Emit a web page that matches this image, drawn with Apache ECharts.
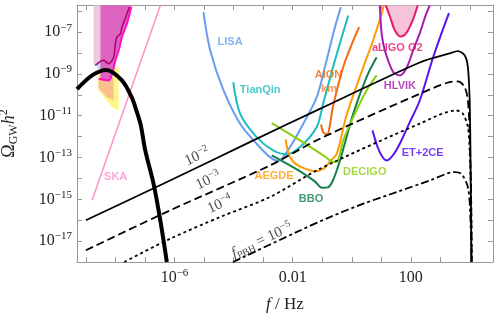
<!DOCTYPE html>
<html>
<head>
<meta charset="utf-8">
<script src="https://cdn.jsdelivr.net/npm/echarts@6/dist/echarts.min.js"></script>
<style>
  html, body { margin: 0; padding: 0; background: #fff; }
  #main { width: 500px; height: 322px; }
</style>
</head>
<body>
<div id="main"></div>
<script>
// all values are log10(f/Hz), log10(Omega_GW h^2)
var xTicks = [-9, -8, -7, -6, -5, -4, -3, -2, -1, 0, 1, 2, 3, 4];
var xLabels = [-6, -2, 2];
var yTicks = [-17, -16, -15, -14, -13, -12, -11, -10, -9, -8, -7, -6];
var yLabels = [-17, -15, -13, -11, -9, -7];

// PBH merger backgrounds for f_PBH = 1e-2 ... 1e-5
var fpbh2 = [[-9.0,-16.0],[-6.15,-14.10],[-3.33,-12.18],[-1.08,-10.67],[2.30,-8.45],[3.31,-8.02],[3.59,-7.91],[3.82,-8.11],[3.93,-8.67],[3.99,-10.27],[4.02,-13.14],[4.05,-18.0]];
var fpbh3 = [[-9.0,-17.44],[-6.15,-15.53],[-2.77,-13.38],[-1.08,-12.10],[2.30,-9.95],[3.31,-9.39],[3.59,-9.36],[3.82,-9.63],[3.93,-10.27],[3.99,-11.85],[4.04,-15.05],[4.06,-18.0]];
var fpbh4 = [[-7.70,-18.0],[-6.15,-16.89],[-4.46,-15.85],[-2.77,-14.89],[-1.08,-13.54],[2.30,-11.38],[3.54,-10.75],[3.76,-10.90],[3.93,-11.55],[3.99,-12.66],[4.04,-15.05],[4.06,-18.0]];
var fpbh5 = [[-4.02,-18.0],[-3.78,-17.84],[-1.75,-16.49],[-0.74,-15.85],[0.39,-15.21],[1.51,-14.66],[2.64,-14.10],[3.48,-13.70],[3.71,-13.78],[3.93,-14.42],[4.01,-15.69],[4.05,-18.0]];

// induced background peak (thick black)
var peak = [[-9.3,-9.73],[-8.79,-9.07],[-8.31,-8.81],[-7.78,-9.31],[-7.45,-10.11],[-7.27,-10.84],[-7.14,-11.46],[-6.99,-12.66],[-6.71,-14.25],[-6.48,-16.01],[-6.26,-18.0]];

// sensitivity curves
var ska = [[-8.79,-15.05],[-6.48,-5.72]];
var lisa = [[-5.02,-6.04],[-4.79,-7.88],[-4.34,-9.79],[-3.78,-11.38],[-3.22,-12.34],[-2.77,-12.98],[-2.49,-13.17],[-2.09,-12.50],[-1.64,-11.38],[-1.19,-10.12],[-0.87,-8.45],[-0.60,-6.92],[-0.37,-5.8]];
var tianqin = [[-4.01,-9.39],[-3.78,-10.90],[-3.22,-12.02],[-2.66,-12.66],[-2.20,-12.85],[-1.75,-12.50],[-1.19,-11.55],[-0.97,-10.43],[-0.57,-8.35],[-0.12,-6.20]];
var bbo = [[-2.71,-12.90],[-1.75,-13.66],[-1.25,-14.14],[-1.01,-14.45],[-0.81,-14.43],[-0.64,-14.10],[-0.40,-13.14],[0.05,-10.90],[0.50,-9.15],[0.84,-8.20]];
var decigo = [[-2.71,-11.35],[-1.75,-12.18],[-0.91,-12.95],[-0.64,-13.21],[-0.47,-13.14],[-0.29,-12.18],[0.05,-11.07],[0.50,-9.79],[0.84,-9.07]];
var aegde = [[-2.24,-12.13],[-2.14,-12.80],[-1.99,-13.19],[-1.75,-13.43],[-1.25,-13.66],[-0.94,-13.52],[-0.74,-13.19],[-0.51,-12.82],[-0.18,-10.99],[0.39,-8.67],[0.72,-7.40],[1.01,-6.12],[1.08,-5.72]];
var aionKm = [[-1.04,-11.42],[-0.96,-11.80],[-0.84,-11.89],[-0.63,-10.51],[-0.29,-8.67],[0.05,-7.40],[0.25,-6.76]];
var ligoO2 = [[1.15,-5.72],[1.29,-6.25],[1.46,-6.92],[1.66,-7.21],[1.86,-7.01],[2.06,-6.44],[2.23,-5.72]];
var hlvik = [[0.95,-5.72],[1.01,-7.06],[1.12,-7.88],[1.40,-8.91],[1.63,-9.07],[1.86,-8.69],[2.10,-7.78],[2.30,-7.06],[2.50,-6.20],[2.64,-5.72]];
var et2ce = [[0.70,-11.70],[0.88,-12.52],[1.05,-13.00],[1.19,-13.14],[1.39,-12.90],[1.63,-12.33],[1.96,-11.32],[2.30,-10.27],[2.74,-8.26],[3.03,-7.08],[3.29,-6.09]];

// PTA constraints (top left)
var ptaStrip = [[-8.74,-5.72],[-8.51,-5.72],[-8.51,-8.59],[-8.74,-8.59]];
var ptaFill = [[-8.51,-5.72],[-7.46,-5.72],[-7.46,-5.80],[-7.61,-6.60],[-7.78,-7.24],[-7.89,-7.88],[-8.00,-8.35],[-8.11,-8.99],[-8.23,-9.31],[-8.51,-9.26]];
var ptaBright = [[-8.57,-9.23],[-8.23,-9.31],[-8.11,-8.99],[-8.00,-8.35],[-7.89,-7.88],[-7.78,-7.24],[-7.61,-6.60],[-7.46,-5.80]];
var ptaDark = [[-8.68,-8.59],[-8.40,-8.35],[-8.23,-8.51],[-8.06,-8.20],[-8.00,-7.56],[-7.95,-7.24],[-7.83,-7.08],[-7.78,-6.76],[-7.67,-6.36],[-7.61,-6.12],[-7.53,-5.80]];
var ptaYellow = [[-8.62,-8.83],[-7.89,-8.67],[-7.89,-10.75],[-8.11,-10.59],[-8.57,-9.79]];
var ptaOrange = [[-8.57,-9.31],[-8.06,-9.15],[-8.06,-10.27],[-8.28,-10.11],[-8.57,-9.71]];
var ptaCyan = [[-8.62,-8.44],[-8.06,-8.44],[-8.06,-8.74],[-8.62,-8.74]];
var ptaViolet = [[-8.41,-9.02],[-8.13,-9.02],[-8.13,-9.23],[-8.41,-9.23]];

// annotation anchors
var names = ['LISA','TianQin','AEGDE','BBO','DECIGO','AION','km','aLIGO O2','HLVIK','ET+2CE','SKA'];
var nameAt = [[-4.12,-7.49],[-3.10,-9.79],[-2.63,-13.88],[-1.38,-14.96],[0.44,-13.67],[-0.79,-9.07],[-0.77,-9.74],[1.54,-7.76],[1.63,-9.57],[2.40,-12.76],[-7.99,-13.95]];
var nameColors = ['#6a9cf0','#1fbcbc','#ff9a00','#137f4a','#8ccf10','#f26a10','#f4842a','#e6176c','#a51cb0','#5a12f0','#ff8fc8'];
var fLabels = ['{b|10}{s|−2}','{b|10}{s|−3}','{b|10}{s|−4}','{i|f}{sub|PBH}{b| = 10}{s|−5}'];
var fLabelAt = [[-5.23,-12.95],[-4.86,-14.10],[-4.46,-15.24],[-3.04,-16.97]];

var chart = echarts.init(document.getElementById('main'), null, {renderer: 'canvas'});
var serif = 'Liberation Serif';
var frame = '#999';
var ink = '#222';

function poly(pts, color) {
  return {
    type: 'custom', silent: true, z: 1,
    renderItem: function (params, api) {
      if (params.dataIndex !== 0) return null;
      return {type: 'polygon', shape: {points: pts.map(function (p) { return api.coord(p); })},
        style: {fill: color}};
    },
    data: pts
  };
}
function curve(pts, color, width, dash, z) {
  return {type: 'line', data: pts, symbol: 'none', smooth: 0.3, silent: true, z: z || 3,
    lineStyle: {color: color, width: width, type: dash || 'solid'}};
}
function tickFmt(v) {
  if (v === -2) return '{b|0.01}';
  if (v === 2) return '{b|100}';
  return '{b|10}{s|−' + (-v) + '}';
}
var tickRich = {
  b: {fontFamily: serif, fontSize: 16, color: ink, lineHeight: 20},
  s: {fontFamily: serif, fontSize: 11, color: ink, verticalAlign: 'top', lineHeight: 12}
};
function sideAxis(pos, min, max, ticks) {
  return {type: 'value', min: min, max: max, position: pos,
    axisLine: {show: true, onZero: false, lineStyle: {color: frame}},
    axisTick: {inside: true, length: 5, lineStyle: {color: frame}, customValues: ticks},
    axisLabel: {show: false}, splitLine: {show: false}};
}

var labelData = names.map(function (n, i) {
  return {value: nameAt[i], name: n, label: {color: nameColors[i]}};
});
var fData = fLabels.map(function (t, i) {
  return {value: fLabelAt[i], name: t};
});

chart.setOption({
  animation: false,
  grid: {left: 77, right: 7, top: 5, bottom: 60, containLabel: false, outerBoundsMode: 'none'},
  xAxis: [
    {type: 'value', min: -9.3, max: 4.78, position: 'bottom',
      name: '{i|f}{n| / Hz}', nameLocation: 'middle', nameGap: 34,
      nameTextStyle: {rich: {i: {fontFamily: serif, fontStyle: 'italic', fontSize: 17, color: ink},
        n: {fontFamily: serif, fontSize: 17, color: ink}}},
      axisLine: {show: true, onZero: false, lineStyle: {color: frame}},
      axisTick: {inside: true, length: 5, lineStyle: {color: frame}, customValues: xTicks},
      axisLabel: {customValues: xLabels, formatter: tickFmt, rich: tickRich, margin: 6},
      splitLine: {show: false}},
    sideAxis('top', -9.3, 4.78, xTicks)
  ],
  yAxis: [
    {type: 'value', min: -18, max: -5.7, position: 'left',
      name: '{o|Ω}{sub|GW}{h|h}{sup|2}', nameLocation: 'middle', nameGap: 57,
      nameTextStyle: {rich: {
        o: {fontFamily: serif, fontSize: 18, color: ink, lineHeight: 22},
        sub: {fontFamily: serif, fontSize: 12, color: ink, verticalAlign: 'bottom', lineHeight: 14},
        h: {fontFamily: serif, fontStyle: 'italic', fontSize: 18, color: ink, lineHeight: 22},
        sup: {fontFamily: serif, fontSize: 12, color: ink, verticalAlign: 'top', lineHeight: 14}}},
      axisLine: {show: true, onZero: false, lineStyle: {color: frame}},
      axisTick: {inside: true, length: 5, lineStyle: {color: frame}, customValues: yTicks},
      axisLabel: {customValues: yLabels, formatter: tickFmt, rich: tickRich, margin: 5},
      splitLine: {show: false}},
    sideAxis('right', -18, -5.7, yTicks)
  ],
  series: [
    poly(ptaStrip, '#ebc9df'),
    poly(ptaYellow, '#fdf78a'),
    poly(ptaOrange, '#fbc08e'),
    poly(ptaCyan, '#aee4fb'),
    poly(ptaViolet, '#a07cf2'),
    poly(ptaFill, '#dc63c0'),
    curve(ptaDark, '#a8006c', 1.5, 'solid', 2),
    curve(ptaBright, '#ff10c8', 2, 'solid', 2),
    curve(ska, '#ff8fc8', 1.5),
    poly(ligoO2, '#f6c3d7'),
    curve(lisa, '#6a9cf0', 2),
    curve(tianqin, '#1fbcbc', 2),
    curve(aegde, '#ff9a00', 2),
    curve(aionKm, '#f26a10', 2),
    curve(bbo, '#137f4a', 2),
    curve(decigo, '#8ccf10', 2),
    curve(ligoO2, '#e6176c', 2),
    curve(hlvik, '#a51cb0', 2),
    curve(et2ce, '#5a12f0', 2),
    curve(fpbh2, '#000', 1.8, 'solid', 4),
    curve(fpbh3, '#000', 1.8, [8, 4], 4),
    curve(fpbh4, '#000', 1.8, [3, 3], 4),
    curve(fpbh5, '#000', 1.8, [8, 3, 3, 3], 4),
    curve(peak, '#000', 4, 'solid', 5),
    {type: 'scatter', data: labelData, symbolSize: 0, silent: true, z: 6,
      label: {show: true, position: 'inside', formatter: '{b}', fontFamily: 'Liberation Sans',
        fontWeight: 'bold', fontSize: 11}},
    {type: 'scatter', data: fData, symbolSize: 0, silent: true, z: 6,
      label: {show: true, position: 'inside', formatter: '{b}', rotate: 25,
        rich: {
          b: {fontFamily: serif, fontSize: 15, color: ink, lineHeight: 18},
          s: {fontFamily: serif, fontSize: 10, color: ink, verticalAlign: 'top', lineHeight: 11},
          i: {fontFamily: serif, fontStyle: 'italic', fontSize: 15, color: ink, lineHeight: 18},
          sub: {fontFamily: serif, fontSize: 10, color: ink, verticalAlign: 'bottom', lineHeight: 11}
        }}}
  ]
});
</script>
</body>
</html>
